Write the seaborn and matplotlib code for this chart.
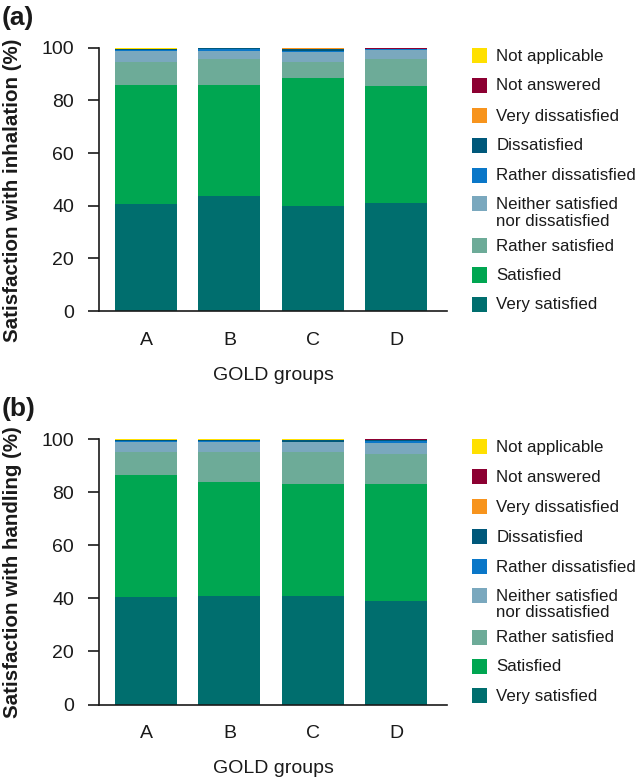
import numpy as np
import pandas as pd
import matplotlib
matplotlib.use("Agg")
import matplotlib.pyplot as plt
from matplotlib.patches import Rectangle
import seaborn as sns

groups = ["A", "B", "C", "D"]
categories = ["Very satisfied", "Satisfied", "Rather satisfied",
              "Neither satisfied\nnor dissatisfied", "Rather dissatisfied",
              "Dissatisfied", "Very dissatisfied", "Not answered", "Not applicable"]
colors = ["#006e6e", "#00a651", "#6dab98", "#7aa8be", "#0a77c8",
          "#00587a", "#f7941d", "#8c0032", "#ffe000"]

# panel (a): satisfaction with inhalation (%), order as categories
inh_very_sat = [40.5, 43.5, 40.0, 41.0]
inh_sat = [45.5, 42.3, 48.4, 44.5]
inh_rather_sat = [8.7, 9.9, 6.3, 10.2]
inh_neither = [4.0, 3.0, 3.6, 3.4]
inh_rather_dis = [0.3, 0.8, 0.6, 0.4]
inh_dis = [0.5, 0.2, 0.7, 0.1]
inh_very_dis = [0.0, 0.1, 0.3, 0.0]
inh_not_answered = [0.0, 0.2, 0.1, 0.4]
inh_not_applicable = [0.5, 0.0, 0.0, 0.0]

# panel (b): satisfaction with handling (%)
han_very_sat = [40.5, 41.0, 41.0, 39.0]
han_sat = [45.9, 42.9, 41.9, 43.9]
han_rather_sat = [8.8, 11.3, 12.3, 11.4]
han_neither = [3.55, 3.55, 3.5, 4.3]
han_rather_dis = [0.4, 0.6, 0.3, 0.6]
han_dis = [0.35, 0.15, 0.5, 0.4]
han_very_dis = [0.0, 0.0, 0.0, 0.0]
han_not_answered = [0.0, 0.0, 0.0, 0.4]
han_not_applicable = [0.5, 0.5, 0.5, 0.0]

inh = [inh_very_sat, inh_sat, inh_rather_sat, inh_neither, inh_rather_dis,
       inh_dis, inh_very_dis, inh_not_answered, inh_not_applicable]
han = [han_very_sat, han_sat, han_rather_sat, han_neither, han_rather_dis,
       han_dis, han_very_dis, han_not_answered, han_not_applicable]

sns.set_theme(style="white")
plt.rcParams['font.family'] = ['Liberation Sans', 'DejaVu Sans']

W, H = 638, 783
fig = plt.figure(figsize=(W / 100, H / 100), dpi=100)


def px_axes(left, top, right, bottom):
    return fig.add_axes([left / W, 1 - bottom / H, (right - left) / W,
                         (bottom - top) / H])


ax_a = px_axes(99, 47.7, 447, 311)
ax_b = px_axes(99, 439, 447, 704.5)

# legend row offsets (px below the axes top), top row first
legend_offsets = [7.8, 37.8, 67.8, 97.8, 127.8, 156.0, 198.0, 227.3, 256.6]
INK = "#1a1a1a"


def draw(ax, data, ylabel, tag, top_px, ylab_y):
    arr = np.array(data)
    cum = np.cumsum(arr, axis=0)
    for i in range(len(categories) - 1, -1, -1):
        df = pd.DataFrame({"group": groups, "value": cum[i]})
        sns.barplot(data=df, x="group", y="value", color=colors[i],
                    saturation=1, width=0.744, linewidth=0, ax=ax,
                    errorbar=None)
    ax.set_ylim(0, 100)
    ax.set_xlim(-0.564, 3.61)
    ax.set_yticks([0, 20, 40, 60, 80, 100])
    ax.tick_params(axis="y", labelsize=14, length=8, width=1.2,
                   color=INK, left=True, pad=10, labelcolor=INK)
    ax.tick_params(axis="x", labelsize=14, length=0, pad=15, labelcolor=INK)
    for s in ["top", "right"]:
        ax.spines[s].set_visible(False)
    for s in ["left", "bottom"]:
        ax.spines[s].set_linewidth(1.2)
        ax.spines[s].set_color(INK)
    ax.set_xlabel("GOLD groups", fontsize=14, labelpad=13, color=INK)
    ax.set_ylabel("")
    ax.text(-0.25, ylab_y, ylabel, transform=ax.transAxes, fontsize=14.8,
            fontweight="bold", rotation=90, ha="center", va="center",
            color=INK)
    ax.text(2 / W, 1 - (top_px - 30) / H, tag, transform=fig.transFigure,
            fontsize=19, fontweight="bold", ha="left", va="center", color=INK)
    # legend, top row = last category
    for k, i in enumerate(range(len(categories) - 1, -1, -1)):
        yc = top_px + legend_offsets[k]
        fig.patches.append(Rectangle((471.5 / W, 1 - (yc + 7.5) / H),
                                     15.5 / W, 15 / H, facecolor=colors[i],
                                     edgecolor="none",
                                     transform=fig.transFigure, figure=fig))
        nlines = categories[i].count("\n") + 1
        ytext = yc + (nlines - 1) * 17.5 / 2
        fig.text(496.5 / W, 1 - (ytext + 0.5) / H, categories[i],
                 fontsize=12.2, ha="left", va="center", linespacing=1.12,
                 color=INK)


draw(ax_a, inh, "Satisfaction with inhalation (%)", "(a)", 47.7, 0.46)
draw(ax_b, han, "Satisfaction with handling (%)", "(b)", 439, 0.497)

fig.savefig("out.png", dpi=100)
